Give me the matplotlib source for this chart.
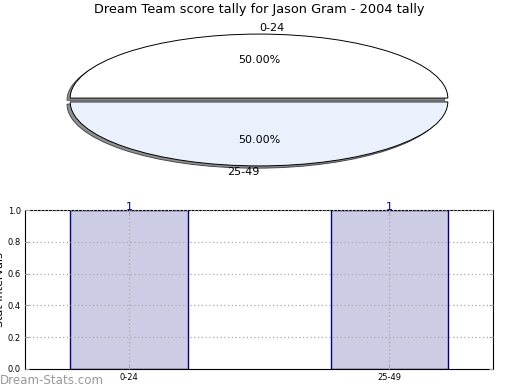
import matplotlib
matplotlib.use("Agg")
import matplotlib.pyplot as plt

title = "Dream Team score tally for Jason Gram - 2004 tally"
categories = ["0-24", "25-49"]
counts = [1, 1]
pie_colors = ["#ffffff", "#eaf0fc"]
yticks = [0.0, 0.2, 0.4, 0.6, 0.8, 1.0]

fig = plt.figure(figsize=(5.2, 3.9), dpi=100)

# Pie
axp = fig.add_axes([23/520, 1 - 180/390, 472/520, 160/390])
wedges, texts, autotexts = axp.pie(
    counts, labels=categories, colors=pie_colors, autopct="%1.2f%%",
    explode=[0.03, 0.03], shadow={"ox": -0.012, "oy": -0.025, "facecolor": "#909090", "alpha": 1.0},
    startangle=0, wedgeprops={"edgecolor": "black", "linewidth": 0.7},
    textprops={"fontsize": 8}, labeldistance=1.1, pctdistance=0.6)
axp.set_aspect("auto")
axp.set_xlim(-1.25, 1.25)
axp.set_ylim(-1.25, 1.25)
texts[0].set_ha("left")
texts[1].set_ha("right")
fig.text(259/520, 1 - 10/390, title, ha="center", va="center", fontsize=9.3)

# Bars
axb = fig.add_axes([25/520, 21/390, 468/520, 159/390])
x = list(range(len(categories)))
bars = axb.bar(x, counts, width=0.45, color="#cccce5", edgecolor="#000080", linewidth=1.0, zorder=1)
axb.set_xlim(-0.4, 1.4)
axb.set_ylim(0, 1)
axb.set_xticks(x)
axb.set_xticklabels(categories, fontsize=6)
axb.set_yticks(yticks)
axb.set_yticklabels([f"{v:.1f}" for v in yticks], fontsize=6)
axb.tick_params(direction="in", length=3, color="#aaaaaa", top=True, right=True, pad=3)
axb.grid(True, linestyle=(0, (1, 2)), color="#aaaaaa", linewidth=0.9, zorder=2)
axb.set_axisbelow(False)
for xi, c in zip(x, counts):
    axb.text(xi, c - 0.01, str(c), ha="center", va="bottom", fontsize=8, color="#000080")
axb.set_ylabel("Stat Intervals", fontsize=8, labelpad=2)
axb.set_xlabel("Frequency", fontsize=8, labelpad=8)
for s in axb.spines.values():
    s.set_linewidth(0.8)
fig.text(0.0, 9/390, "Dream-Stats.com", fontsize=8.6, color="#999999", ha="left", va="center")

fig.savefig("out.png", dpi=100)
